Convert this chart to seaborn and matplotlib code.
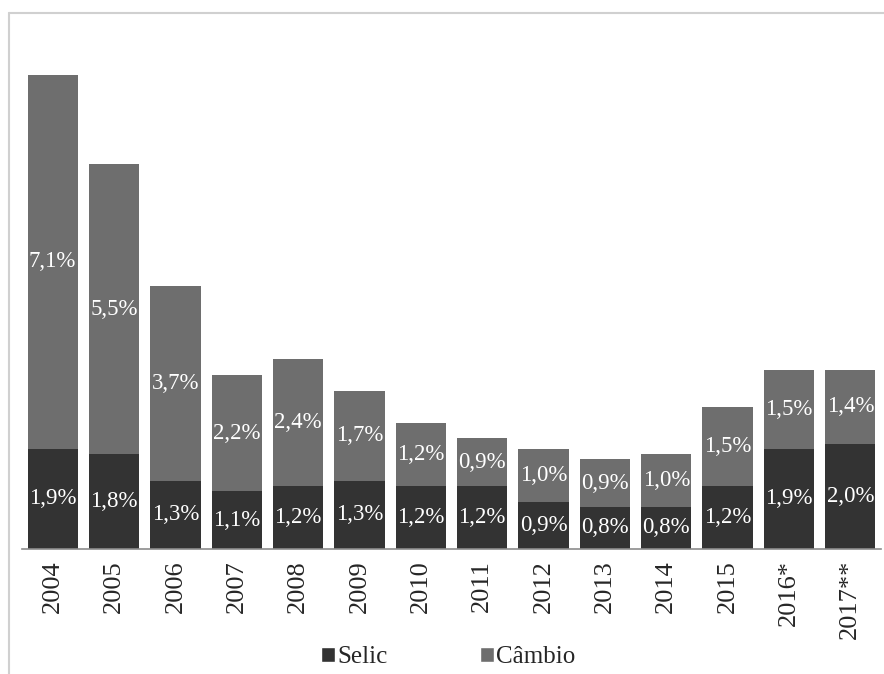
import matplotlib
matplotlib.use("Agg")
import matplotlib.pyplot as plt
import seaborn as sns
from matplotlib.patches import Patch
from matplotlib.lines import Line2D

anos = ["2004", "2005", "2006", "2007", "2008", "2009", "2010",
        "2011", "2012", "2013", "2014", "2015", "2016*", "2017**"]
selic = [1.9, 1.8, 1.3, 1.1, 1.2, 1.3, 1.2, 1.2, 0.9, 0.8, 0.8, 1.2, 1.9, 2.0]
cambio = [7.1, 5.5, 3.7, 2.2, 2.4, 1.7, 1.2, 0.9, 1.0, 0.9, 1.0, 1.5, 1.5, 1.4]

cor_selic = "#333333"
cor_cambio = "#6e6e6e"

sns.set_style("white")
plt.rcParams['font.family'] = ['Liberation Serif', 'DejaVu Serif']

total = [s + c for s, c in zip(selic, cambio)]

fig = plt.figure(figsize=(8.84, 6.74), dpi=100)
ax = fig.add_axes([22 / 884, 125 / 674, 859 / 884, 519 / 674])

sns.barplot(x=anos, y=total, order=anos, color=cor_cambio, width=0.82,
            saturation=1, linewidth=0, ax=ax)
sns.barplot(x=anos, y=selic, order=anos, color=cor_selic, width=0.82,
            saturation=1, linewidth=0, ax=ax)

def fmt(v):
    return f"{v:.1f}%".replace(".", ",")

for i in range(len(anos)):
    ax.text(i, selic[i] / 2, fmt(selic[i]), ha="center", va="center",
            color="white", fontsize=16.5)
    ax.text(i, selic[i] + cambio[i] / 2, fmt(cambio[i]), ha="center",
            va="center", color="white", fontsize=16.5)

ax.set_ylim(0, 9.85)
ax.set_xlim(-0.5, len(anos) - 0.5)
ax.set_yticks([])
ax.set_ylabel("")
ax.tick_params(axis="x", rotation=90, labelsize=19, length=0, pad=8)
for lado in ["top", "left", "right"]:
    ax.spines[lado].set_visible(False)
ax.spines["bottom"].set_color("#8c8c8c")
ax.spines["bottom"].set_linewidth(1.2)

handles = [Patch(facecolor=cor_selic, label="Selic"),
           Patch(facecolor=cor_cambio, label="Câmbio")]
fig.legend(handles=handles, loc="center", bbox_to_anchor=(448 / 884, 17 / 674),
           ncol=2, frameon=False, fontsize=18, handlelength=0.55,
           handleheight=0.55, handletextpad=0.1, columnspacing=3.7)

# moldura clara do gráfico (superior e esquerda)
fig.add_artist(Line2D([9 / 884, 1.0], [1 - 13 / 674, 1 - 13 / 674],
                      transform=fig.transFigure, color="#d0d0d0", lw=1.5))
fig.add_artist(Line2D([9 / 884, 9 / 884], [0.0, 1 - 13 / 674],
                      transform=fig.transFigure, color="#d0d0d0", lw=1.5))

fig.savefig("out.png", dpi=100)
